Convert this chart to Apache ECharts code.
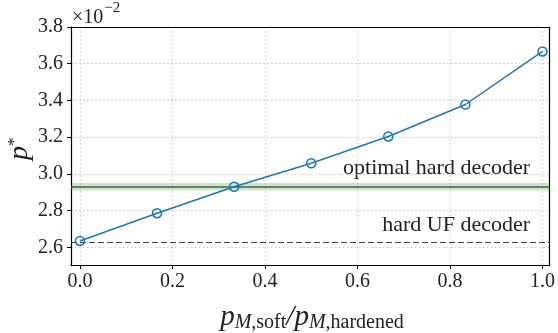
<!DOCTYPE html>
<html>
<head>
<meta charset="utf-8">
<script src="https://cdn.jsdelivr.net/npm/echarts@6/dist/echarts.min.js"></script>
<style>
  html, body { margin: 0; padding: 0; background: #fff; }
  #chart { width: 558px; height: 333px; }
</style>
</head>
<body>
<div id="chart"></div>
<script>
// Ratio of soft to hardened measurement error rate
const ratios = [0, 1/6, 2/6, 3/6, 4/6, 5/6, 1];
// Threshold p* (in units of 1e-2)
const thresholds = [2.635, 2.786, 2.930, 3.058, 3.204, 3.378, 3.667];
// Reference thresholds (units of 1e-2)
const optimalHard = 2.93;
const optimalHardBand = [2.91, 2.95];
const hardUF = 2.635;
// Tick values
const xTicks = [0, 0.2, 0.4, 0.6, 0.8, 1.0];
const yTicks = [2.6, 2.8, 3.0, 3.2, 3.4, 3.6, 3.8];

const X_RANGE = [-0.0193, 1.015];
const Y_RANGE = [2.504, 3.8];

const FONT = '"Liberation Serif", "DejaVu Serif", serif';
const INK = '#222';
const chart = echarts.init(document.getElementById('chart'), null, { renderer: 'canvas' });

const gridLineStyle = { color: '#c8c8c8', type: [1.5, 2.5], width: 1 };
const spine = { show: true, onZero: false, lineStyle: { color: '#000', width: 1.2 } };
// plain frame axes for the top and right spines
const frameAxis = (pos, range) => ({
  type: 'value', position: pos, min: range[0], max: range[1],
  axisLine: spine, axisTick: { show: false }, axisLabel: { show: false }, splitLine: { show: false }
});

chart.setOption({
  animation: false,
  backgroundColor: '#fff',
  grid: { left: 71, right: 5, top: 27, bottom: 68 },
  xAxis: [
    {
      type: 'value',
      min: X_RANGE[0],
      max: X_RANGE[1],
      axisLine: spine,
      axisTick: { show: true, length: 4, customValues: xTicks, lineStyle: { color: '#000', width: 1 } },
      axisLabel: {
        customValues: xTicks,
        formatter: v => v.toFixed(1),
        color: INK, fontFamily: FONT, fontSize: 20, margin: 7
      },
      splitLine: { show: true, customValues: xTicks, lineStyle: gridLineStyle }
    },
    frameAxis('top', X_RANGE)
  ],
  yAxis: [
    {
      type: 'value',
      min: Y_RANGE[0],
      max: Y_RANGE[1],
      axisLine: spine,
      axisTick: { show: true, length: 4, customValues: yTicks, lineStyle: { color: '#000', width: 1 } },
      axisLabel: {
        customValues: yTicks,
        formatter: v => v.toFixed(1),
        color: INK, fontFamily: FONT, fontSize: 20, margin: 8
      },
      // the top gridline would sit on the frame, so it is left out
      splitLine: { show: true, customValues: yTicks.slice(0, -1), lineStyle: gridLineStyle }
    },
    frameAxis('right', Y_RANGE)
  ],
  series: [
    {
      // green band and line for the optimal hard decoder, dashed line for hard UF
      type: 'line',
      data: [],
      markArea: {
        silent: true,
        itemStyle: { color: 'rgba(44,160,44,0.25)' },
        data: [[{ yAxis: optimalHardBand[0] }, { yAxis: optimalHardBand[1] }]]
      },
      markLine: {
        silent: true,
        symbol: 'none',
        label: { show: false },
        data: [
          { yAxis: optimalHard, lineStyle: { color: '#4b5e4b', width: 1.6, type: 'solid' } },
          { yAxis: hardUF, lineStyle: { color: '#444', width: 1, type: [6, 3] } }
        ]
      }
    },
    {
      type: 'line',
      data: ratios.map((r, i) => [r, thresholds[i]]),
      symbol: 'circle',
      symbolSize: 9,
      showAllSymbol: true,
      lineStyle: { color: '#1f77b4', width: 1.5 },
      itemStyle: { color: 'rgba(255,255,255,0)', borderColor: '#1f77b4', borderWidth: 1.5 },
      z: 5
    }
  ],
  graphic: [
    {
      type: 'text', left: 72, top: 1,
      style: {
        text: '{a|×10}{s|−2}',
        rich: {
          a: { fontFamily: FONT, fontSize: 20, fill: INK, padding: [7, 0, 0, 0] },
          s: { fontFamily: FONT, fontSize: 15, fill: INK, verticalAlign: 'top', padding: [0, 0, 8, 1] }
        }
      }
    },
    {
      type: 'text', right: 28, top: 157,
      style: { text: 'optimal hard decoder', fontFamily: FONT, fontSize: 22, fill: INK, textAlign: 'right' }
    },
    {
      type: 'text', right: 28, top: 214,
      style: { text: 'hard UF decoder', fontFamily: FONT, fontSize: 22, fill: INK, textAlign: 'right' }
    },
    {
      type: 'text', x: 6, y: 160, rotation: Math.PI / 2,
      style: {
        text: '{p|p}{s|*}',
        rich: {
          p: { fontFamily: FONT, fontSize: 28, fontStyle: 'italic', fill: INK },
          s: { fontFamily: FONT, fontSize: 17, fill: INK, verticalAlign: 'top' }
        }
      }
    },
    {
      type: 'text', x: 312, y: 302,
      style: {
        text: '{p|p}{sub|M,}{r|soft}{p|/p}{sub|M,}{r|hardened}',
        align: 'center',
        rich: {
          p: { fontFamily: FONT, fontSize: 29, fontStyle: 'italic', fill: INK },
          sub: { fontFamily: FONT, fontSize: 20, fontStyle: 'italic', fill: INK, padding: [11, 0, 0, 0] },
          r: { fontFamily: FONT, fontSize: 20, fill: INK, padding: [11, 0, 0, 0] }
        }
      }
    }
  ]
});
</script>
</body>
</html>
